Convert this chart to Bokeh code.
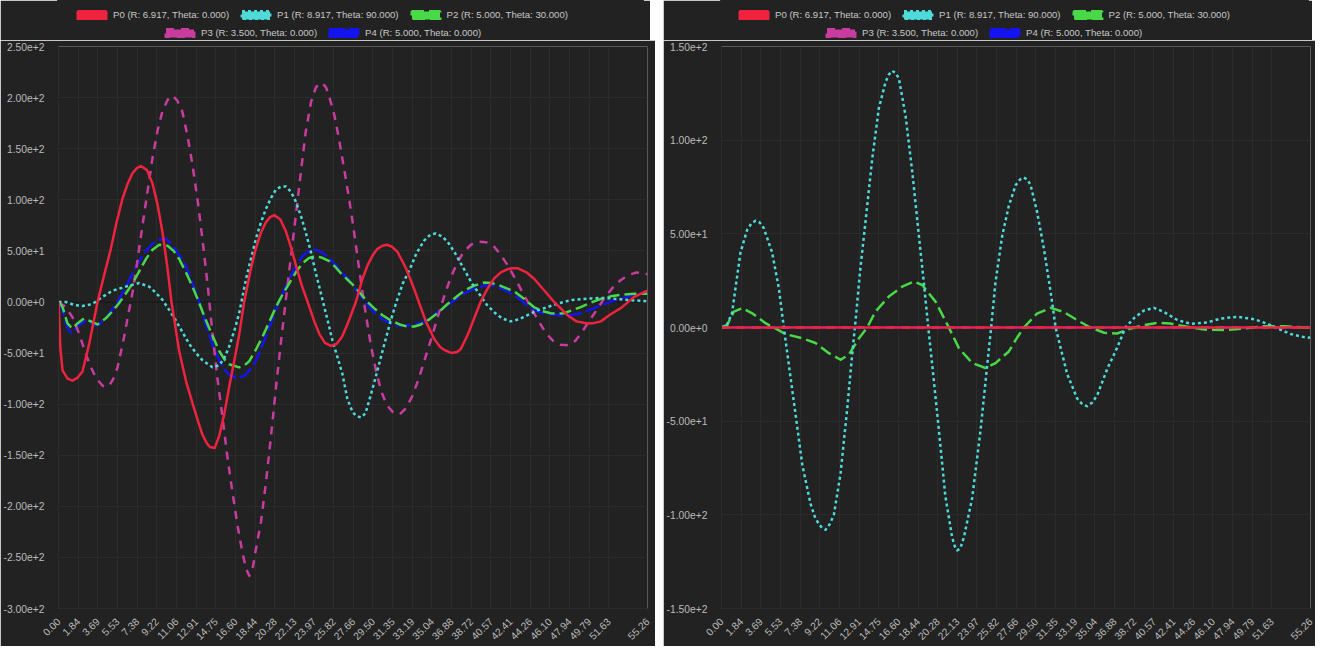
import math
from bokeh.plotting import figure
from bokeh.models import (FixedTicker, CustomJSTickFormatter, Legend, LegendItem,
                          Span, Range1d)
from bokeh.layouts import row, column
from bokeh.embed import file_html
from bokeh.resources import INLINE

# ---------------- data ----------------
X_TICK_LABELS = ["0.00", "1.84", "3.69", "5.53", "7.38", "9.22", "11.06", "12.91",
                 "14.75", "16.60", "18.44", "20.28", "22.13", "23.97", "25.82",
                 "27.66", "29.50", "31.35", "33.19", "35.04", "36.88", "38.72",
                 "40.57", "42.41", "44.26", "46.10", "47.94", "49.79", "51.63", "55.26"]
L_Y_TICKS = [-300, -250, -200, -150, -100, -50, 0, 50, 100, 150, 200, 250]
R_Y_TICKS = [-150, -100, -50, 0, 50, 100, 150]

SERIES_NAMES = ["P0 (R: 6.917, Theta: 0.000)", "P1 (R: 8.917, Theta: 90.000)",
                "P2 (R: 5.000, Theta: 30.000)", "P3 (R: 3.500, Theta: 0.000)",
                "P4 (R: 5.000, Theta: 0.000)"]

# ---- left panel ----
L_P0_X = [0.00, 0.18, 0.38, 0.85, 1.31, 1.80, 2.25, 2.88, 3.66, 4.30, 4.91, 5.45, 6.00,
          6.50, 6.94, 7.35, 7.73, 8.30, 8.82, 9.30, 9.76, 10.20, 10.60, 11.32, 12.00,
          12.57, 13.10, 13.51, 13.90, 14.20, 14.65, 15.08, 15.55, 16.00, 16.50, 16.95,
          17.42, 18.00, 18.50, 19.00, 19.46, 19.85, 20.24, 20.80, 21.30, 21.80, 22.27,
          22.80, 23.37, 24.00, 24.50, 25.00, 25.55, 26.10, 26.60, 27.10, 27.90, 28.50,
          29.00, 29.50, 29.92, 30.40, 30.80, 31.30, 31.80, 32.60, 33.36, 33.80, 34.50,
          35.24, 35.80, 36.20, 36.90, 37.40, 37.74, 38.40, 39.00, 39.60, 40.20, 40.87,
          41.50, 42.10, 42.60, 43.06, 43.90, 44.60, 45.60, 46.50, 47.75, 48.60, 49.60,
          50.30, 50.88, 51.80, 52.76, 54.00, 55.26]
L_P0_Y = [0, -46, -67, -75, -77, -74, -68, -41, 0, 27, 52, 78, 101,
          116, 126, 131, 133, 129, 116, 95, 68, 35, 0, -48, -79,
          -99, -117, -130, -138, -142, -143, -131, -110, -84, -57, -32,
          0, 30, 52, 68, 78, 83, 85, 81, 70, 54, 36,
          17, 0, -19, -32, -40, -43, -41, -34, -22, 0, 22,
          36, 46, 52, 55, 56, 54, 49, 33, 13, 0, -20,
          -36, -44, -47, -50, -49, -46, -32, -16, 0, 12, 23,
          29, 32, 33, 33, 29, 23, 11, 0, -13, -19, -21,
          -20.5, -19, -12, -6, 5, 11]

L_P1_X = [0.00, 0.69, 1.50, 2.25, 3.19, 4.13, 5.07, 6.32, 7.00, 7.57, 8.50, 9.13, 9.76,
          10.40, 11.00, 11.60, 12.26, 12.90, 13.50, 14.45, 15.08, 15.55, 16.00, 16.50,
          16.95, 17.58, 18.05, 18.52, 19.00, 19.46, 19.95, 20.40, 20.90, 21.33, 21.80,
          22.27, 22.75, 23.20, 23.70, 24.15, 24.77, 25.25, 25.71, 26.20, 26.65, 27.10,
          27.60, 28.00, 28.40, 28.80, 29.30, 29.90, 30.55, 31.15, 31.70, 32.30, 33.00,
          33.60, 34.30, 34.90, 35.40, 36.00, 36.50, 37.25, 38.05, 38.80, 39.60, 40.20,
          40.87, 41.60, 42.40, 43.20, 44.00, 45.00, 45.90, 46.70, 47.44, 48.20, 49.00,
          50.00, 50.90, 51.80, 52.76, 54.00, 55.26]
L_P1_Y = [0, 0, -3, -4, -2, 5, 11, 15, 17, 18.5, 15, 9, 2,
          -8, -18, -29, -41, -50, -57, -64, -62, -55, -44, -28,
          -11, 22, 42, 62, 78, 91, 102, 110, 113, 113, 108,
          98, 84, 68, 48, 28, 2, -18, -38, -55, -71, -95,
          -108, -112, -113, -109, -91, -68, -42, -19, 0, 18, 33,
          48, 60, 66, 67, 64, 59, 47, 32, 18, 6, -3,
          -10, -16, -19, -17, -13, -8, -5, -2, 0, 2, 2.6,
          3.5, 4, 3.5, 2.6, 1.5, 0.7]

L_P2_X = [0.00, 0.38, 0.84, 1.31, 1.78, 2.40, 3.03, 3.66, 4.44, 5.07, 5.69, 6.30, 6.94,
          7.57, 8.20, 8.82, 9.45, 10.23, 10.80, 11.32, 11.95, 12.57, 13.20, 13.83, 14.45,
          15.08, 15.55, 16.00, 16.95, 17.45, 17.90, 18.50, 19.14, 19.80, 20.40, 21.00,
          21.64, 22.27, 22.90, 23.50, 24.15, 24.80, 25.40, 26.00, 26.50, 27.10, 27.60,
          28.35, 29.00, 29.60, 30.40, 31.17, 32.00, 32.70, 33.40, 34.00, 34.80, 35.55,
          36.50, 37.45, 38.20, 39.00, 39.96, 40.60, 41.20, 42.00, 42.80, 43.70, 44.60,
          45.40, 46.20, 46.80, 47.44, 48.20, 49.00, 50.00, 50.90, 51.80, 52.76, 54.00, 55.26]
L_P2_Y = [0, -5, -21, -26, -21, -16, -19, -22, -16, -9, -1, 8, 18,
          30, 42, 51, 56, 55, 50, 42, 29, 15, -1, -18, -33,
          -48, -56, -61, -64, -62, -58, -47, -34, -19, -5, 7,
          18, 29, 38, 43, 45, 43, 40, 34, 28, 22, 17,
          8, 0, -6, -13, -18, -22, -24, -24, -22, -17, -11,
          -2, 6, 12, 16, 19, 18.5, 17, 13.5, 10, 3, -5,
          -9, -11, -11.5, -11, -8, -5, -0.5, 3, 5.5, 7, 8, 8]

L_P3_X = [0.00, 0.69, 1.31, 1.94, 2.56, 3.05, 3.50, 4.13, 4.45, 4.75, 5.15, 5.54, 6.16,
          6.55, 6.94, 7.40, 7.88, 8.35, 8.82, 9.30, 9.76, 10.25, 10.70, 11.15, 11.60,
          12.10, 12.57, 13.05, 13.50, 14.00, 14.45, 14.90, 15.40, 15.85, 16.33, 16.80,
          17.27, 17.60, 17.90, 18.20, 18.50, 19.00, 19.46, 19.93, 20.40, 20.85, 21.33,
          21.80, 22.27, 22.75, 23.20, 23.70, 24.15, 24.50, 24.77, 25.10, 25.40, 25.90,
          26.34, 26.80, 27.28, 27.60, 28.00, 28.40, 28.80, 29.30, 29.80, 30.30, 30.80,
          31.40, 32.00, 32.60, 33.20, 33.80, 34.40, 35.00, 35.60, 36.20, 36.80, 37.40,
          38.00, 38.70, 39.40, 40.10, 40.80, 41.50, 42.20, 42.90, 43.60, 44.30, 45.00,
          45.70, 46.40, 47.10, 47.80, 48.50, 49.20, 49.90, 50.60, 51.30, 52.00, 52.70,
          53.40, 54.10, 54.70, 55.26]
L_P3_Y = [0, -5, -15, -31, -51, -64, -74, -82, -83, -82, -75, -64, -34,
          -12, 9, 40, 75, 108, 141, 168, 187, 198, 202, 197, 187,
          163, 134, 100, 62, 16, -31, -74, -114, -152, -187, -219,
          -246, -261, -268, -262, -243, -215, -177, -132, -84, -41, 2,
          44, 85, 128, 167, 196, 210, 214, 214, 210, 201, 182,
          158, 130, 100, 78, 48, 18, -10, -42, -68, -88, -101,
          -108, -110, -104, -92, -75, -55, -35, -14, 6, 24, 38,
          49, 56, 59, 58.5, 55, 46, 35, 22, 8, -5, -18,
          -30, -38, -42, -42.5, -38, -28, -17, -6, 5, 14, 21,
          26, 28.5, 29, 27]

L_P4_X = [0.00, 0.38, 0.84, 1.16, 1.50, 1.78, 2.40, 3.03, 3.66, 4.44, 5.07, 5.69, 6.30,
          6.94, 7.57, 8.20, 8.82, 9.45, 10.07, 10.70, 11.32, 11.95, 12.57, 13.20, 13.83,
          14.45, 15.08, 15.55, 16.00, 16.80, 17.45, 17.90, 18.50, 19.14, 19.80, 20.40,
          21.00, 21.64, 22.27, 22.90, 23.50, 24.15, 24.80, 25.40, 26.00, 26.50, 27.10,
          27.60, 28.35, 29.00, 29.60, 30.40, 31.17, 31.80, 32.70, 33.40, 34.30, 35.20,
          36.00, 36.50, 37.45, 38.20, 39.00, 39.96, 40.87, 41.60, 42.40, 42.80, 43.70,
          44.60, 45.40, 46.20, 47.00, 48.00, 49.00, 50.00, 51.00, 52.10, 53.00, 54.00, 55.26]
L_P4_Y = [0, -8, -25, -30, -28, -24, -19, -21, -23, -16, -7, 3, 14,
          28, 40, 50, 57, 61, 62, 55, 46, 35, 18, 0, -22,
          -42, -57, -66, -71, -75, -72, -67, -58, -42, -24, -7,
          8, 22, 35, 45, 50, 51, 48, 43, 36, 30, 23,
          17, 6, -3, -10, -17, -21, -23, -23, -22, -19.5, -13,
          -7, -3, 4, 9, 13, 16, 16, 13, 9, 6.5, -1,
          -8, -11, -12, -13, -13, -11, -7, -3, 1.5, 4, 7, 10]

# ---- right panel ----
R_P0_X = [0.00, 55.26]
R_P0_Y = [0, 0]
R_P3_X = [0.00, 55.26]
R_P3_Y = [0, 0]
R_P4_X = [0.00, 55.26]
R_P4_Y = [0, 0]

R_P1_X = [0.00, 0.50, 1.00, 1.31, 1.78, 2.40, 2.80, 3.19, 3.60, 3.97, 4.75, 5.38, 5.85,
          6.32, 6.94, 7.57, 8.35, 8.75, 9.13, 9.45, 9.76, 10.15, 10.54, 11.17, 11.80,
          12.20, 12.60, 13.00, 13.50, 14.14, 14.76, 15.39, 15.70, 16.00, 16.30, 16.64,
          17.27, 17.90, 18.52, 19.00, 19.40, 19.77, 20.40, 21.00, 21.64, 21.90, 22.10,
          22.40, 22.74, 23.52, 24.30, 24.93, 25.30, 25.70, 26.34, 26.96, 27.60, 28.00,
          28.37, 28.70, 29.00, 29.60, 30.25, 30.88, 31.35, 31.82, 32.44, 33.38, 33.85,
          34.30, 34.80, 35.26, 36.20, 37.10, 37.90, 38.70, 39.60, 40.57, 41.50, 42.77,
          44.00, 45.60, 46.83, 48.40, 50.00, 51.20, 52.15, 53.40, 54.50, 55.26]
R_P1_Y = [0, 1, 8, 21, 40, 52, 55.5, 57, 56, 53, 40, 21, 0,
          -20, -46, -73, -94, -101, -105, -107, -108, -105, -100, -78, -43,
          -18, 5, 30, 56, 90, 117, 131, 135, 137, 136, 133,
          113, 83, 49, 23, 0, -20, -55, -90, -112, -117, -119,
          -118, -112, -91, -55, -20, 0, 24, 49, 65, 76, 79,
          80, 79, 76, 62, 42, 19, 0, -11, -25, -38, -41,
          -42, -40, -36, -22, -11, 0, 5, 9, 10.5, 8.3, 4,
          2, 2.7, 4.8, 5.7, 4.4, 2, -0.5, -3.5, -5, -5.5]

R_P2_X = [0.00, 0.53, 1.16, 1.94, 2.88, 4.13, 4.90, 6.00, 7.57, 8.82, 10.07, 11.17, 11.95,
          12.90, 13.67, 14.45, 15.70, 16.95, 18.05, 18.83, 20.08, 21.33, 22.27, 23.52,
          24.77, 25.71, 26.96, 27.60, 28.37, 29.60, 30.88, 32.10, 33.38, 34.60, 35.90,
          37.10, 38.40, 39.60, 40.90, 42.10, 43.70, 45.30, 47.20, 49.00, 50.90, 52.80,
          54.60, 55.26]
R_P2_Y = [0, 1.4, 8.5, 10.3, 7.6, 2.3, 0, -3.5, -5.7, -8.3, -13.7, -17.2, -14.5,
          -5.7, 0, 8.5, 16.5, 21.8, 24.5, 22.7, 13.8, 0, -11, -19,
          -21.6, -19, -12.8, -6.6, 0, 7.4, 10.5, 8.3, 3.9, 0, -2.8,
          -3.2, -0.5, 1.2, 2.5, 2.1, 0.35, -1.1, -1.4, -0.5, 0.7, 0.7,
          0, 0]

# ---------------- style ----------------
COLORS = ["#f0233f", "#4fdada", "#48d848", "#c83ca0", "#1414f0"]
DASHES = ["solid", "3 3", "12 5", "8 7", "15 4"]
WIDTHS = [2.5, 2.5, 2.5, 2.5, 2.5]
BG = "#222222"
GRID = "#2b2b2b"
TICK_COLOR = "#bbbbbb"
LEGEND_COLOR = "#c8c8c8"
FONT = "Liberation Sans"
NAN = float("nan")

X_TICKS = [float(s) for s in X_TICK_LABELS]
FRAME_W = 589
FRAME_H = 562
LEGEND_H = 40


def make_legend_fig(width, row1_x, row2_x):
    # the outline is painted in the background colour to hide the seam between
    # the frame fill and the border fill
    lf = figure(width=width, height=LEGEND_H, output_backend="svg",
                toolbar_location=None, x_range=Range1d(0, 1), y_range=Range1d(0, 1),
                x_axis_location=None, y_axis_location=None, min_border=0,
                background_fill_color=BG, border_fill_color=BG,
                outline_line_color=BG, outline_line_width=3)
    lf.grid.visible = False
    items = []
    for i in range(5):
        proxy = lf.quad(left=[NAN], right=[NAN], top=[NAN], bottom=[NAN],
                        fill_color=COLORS[i], line_color=COLORS[i], line_width=3,
                        line_dash=DASHES[i])
        items.append(LegendItem(label=SERIES_NAMES[i], renderers=[proxy]))

    def mk_legend(its, loc):
        return Legend(items=its, orientation="horizontal", location=loc,
                      background_fill_alpha=0, border_line_alpha=0,
                      label_text_color=LEGEND_COLOR, label_text_font=FONT,
                      label_text_font_size="9.6px", glyph_width=35, glyph_height=10,
                      label_height=10, label_standoff=4, spacing=9, padding=0,
                      margin=0)

    lf.add_layout(mk_legend(items[:3], (row1_x, 20)))
    lf.add_layout(mk_legend(items[3:], (row2_x, 2)))
    return lf


def make_panel(y_ticks, series, min_left, min_right):
    p = figure(frame_width=FRAME_W, frame_height=FRAME_H, output_backend="svg",
               toolbar_location=None,
               x_range=Range1d(X_TICKS[0], X_TICKS[-1]),
               y_range=Range1d(y_ticks[0], y_ticks[-1]),
               background_fill_color=BG, border_fill_color=BG,
               min_border_left=min_left, min_border_right=min_right,
               min_border_top=6, min_border_bottom=0, outline_line_color=None)

    p.xaxis.ticker = FixedTicker(ticks=X_TICKS)
    p.xaxis.formatter = CustomJSTickFormatter(code="return tick.toFixed(2);")
    p.xaxis.major_label_orientation = math.pi / 4
    p.yaxis.ticker = FixedTicker(ticks=y_ticks)
    p.yaxis.formatter = CustomJSTickFormatter(code="return tick.toExponential(2);")
    for ax in (p.xaxis[0], p.yaxis[0]):
        ax.axis_line_color = GRID
        ax.major_tick_line_color = None
        ax.minor_tick_line_color = None
        ax.major_label_text_color = TICK_COLOR
        ax.major_label_text_font = FONT
        ax.major_label_text_font_size = "10.3px"
    p.yaxis.major_label_standoff = 8
    p.xaxis.major_label_standoff = 5
    p.xgrid.grid_line_color = GRID
    p.ygrid.grid_line_color = GRID
    p.add_layout(Span(location=0, dimension="width", line_color="#141414",
                      line_width=1, level="underlay"))

    # draw last series first so P0 ends on top (like the original)
    for i in reversed(range(5)):
        xs, ys = series[i]
        p.line(xs, ys, line_color=COLORS[i], line_width=WIDTHS[i],
               line_dash=DASHES[i], line_join="round")
    return p


left = make_panel(L_Y_TICKS,
                  [(L_P0_X, L_P0_Y), (L_P1_X, L_P1_Y), (L_P2_X, L_P2_Y),
                   (L_P3_X, L_P3_Y), (L_P4_X, L_P4_Y)], 53, 8)
right = make_panel(R_Y_TICKS,
                   [(R_P0_X, R_P0_Y), (R_P1_X, R_P1_Y), (R_P2_X, R_P2_Y),
                    (R_P3_X, R_P3_Y), (R_P4_X, R_P4_Y)], 55, 5)
# legend positions are measured from each legend strip's frame, which the column
# layout aligns with the chart frame below it
left_leg = make_legend_fig(650, 16, 104)
right_leg = make_legend_fig(649, 15, 102)

layout = row(column(left_leg, left, spacing=0), column(right_leg, right, spacing=0),
             spacing=8)
open("out.html", "w").write(file_html(layout, INLINE))
